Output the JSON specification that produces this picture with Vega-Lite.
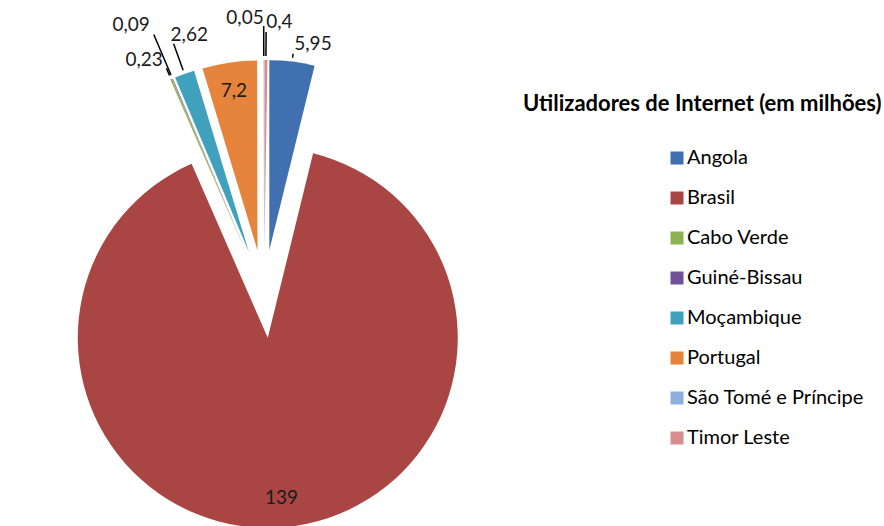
{
  "$schema": "https://vega.github.io/schema/vega-lite/v6.json",
  "width": 528,
  "height": 588,
  "autosize": {"type": "none"},
  "padding": {"left": 0, "top": 0, "right": 356, "bottom": 0},
  "background": "white",
  "config": {
    "view": {"stroke": null},
    "locale": {"number": {"decimal": ",", "thousands": ".", "grouping": [3], "currency": ["", " €"]}}
  },
  "data": {
    "values": [
      {"pais": "Angola", "valor": 5.95},
      {"pais": "Brasil", "valor": 139},
      {"pais": "Cabo Verde", "valor": 0.23},
      {"pais": "Guiné-Bissau", "valor": 0.09},
      {"pais": "Moçambique", "valor": 2.62},
      {"pais": "Portugal", "valor": 7.2},
      {"pais": "São Tomé e Príncipe", "valor": 0.05},
      {"pais": "Timor Leste", "valor": 0.4}
    ]
  },
  "transform": [
    {"stack": "valor", "groupby": [], "sort": [{"field": "pais", "order": "ascending"}], "as": ["v0", "v1"]}
  ],
  "layer": [
    {
      "mark": {
        "type": "arc",
        "radius": 190,
        "xOffset": {"expr": "44*sin(scale('theta',(datum.v0+datum.v1)/2))"},
        "yOffset": {"expr": "-44*cos(scale('theta',(datum.v0+datum.v1)/2))"}
      },
      "encoding": {
        "theta": {"field": "v0", "type": "quantitative"},
        "theta2": {"field": "v1"},
        "color": {
          "field": "pais",
          "type": "nominal",
          "scale": {
            "domain": ["Angola", "Brasil", "Cabo Verde", "Guiné-Bissau", "Moçambique", "Portugal", "São Tomé e Príncipe", "Timor Leste"],
            "range": ["#4170B0", "#A94643", "#8DB254", "#6F5297", "#3FA1BC", "#E5843A", "#8FAEDB", "#D58E8D"]
          },
          "legend": {
            "orient": "none",
            "legendX": 523,
            "legendY": 94,
            "title": "Utilizadores de Internet (em milhões)",
            "titleFont": "Lato",
            "titleFontSize": 22,
            "titleFontWeight": "bold",
            "titleColor": "#000000",
            "titlePadding": 32,
            "titleLimit": 500,
            "labelFont": "Lato",
            "labelFontSize": 20,
            "labelColor": "#000000",
            "labelLimit": 400,
            "symbolType": "square",
            "symbolSize": 169,
            "symbolStrokeWidth": 0,
            "symbolOffset": 144,
            "labelOffset": 0,
            "rowPadding": 20,
            "padding": 0
          }
        }
      }
    },
    {
      "transform": [{"filter": "datum.valor < 7"}],
      "mark": {
        "type": "arc",
        "filled": false,
        "stroke": "#000000",
        "strokeWidth": 1.5,
        "theta": {"expr": "scale('theta',(datum.v0+datum.v1)/2)"},
        "theta2": {"expr": "scale('theta',(datum.v0+datum.v1)/2)"},
        "radius": {"expr": "datum.valor < 0.07 ? 268 : datum.valor < 0.1 ? 282 : datum.valor < 0.3 ? 246 : datum.valor < 1 ? 262 : datum.valor < 3 ? 266 : 242"},
        "radius2": 238
      },
      "encoding": {}
    },
    {
      "mark": {
        "type": "text",
        "theta": {"expr": "scale('theta',(datum.v0+datum.v1)/2)"},
        "radius": {"expr": "datum.valor >= 7 ? 205 : datum.valor < 0.07 ? 276 : datum.valor < 0.1 ? 292 : datum.valor < 0.3 ? 255 : datum.valor < 1 ? 272 : datum.valor < 3 ? 275 : 252"},
        "align": {"expr": "datum.valor >= 7 ? 'center' : datum.valor < 0.3 ? 'right' : 'left'"},
        "baseline": "middle",
        "font": "Lato",
        "fontSize": 19,
        "fill": "#1a1a1a"
      },
      "encoding": {
        "text": {"field": "valor", "type": "quantitative", "format": "~g"}
      }
    }
  ]
}
